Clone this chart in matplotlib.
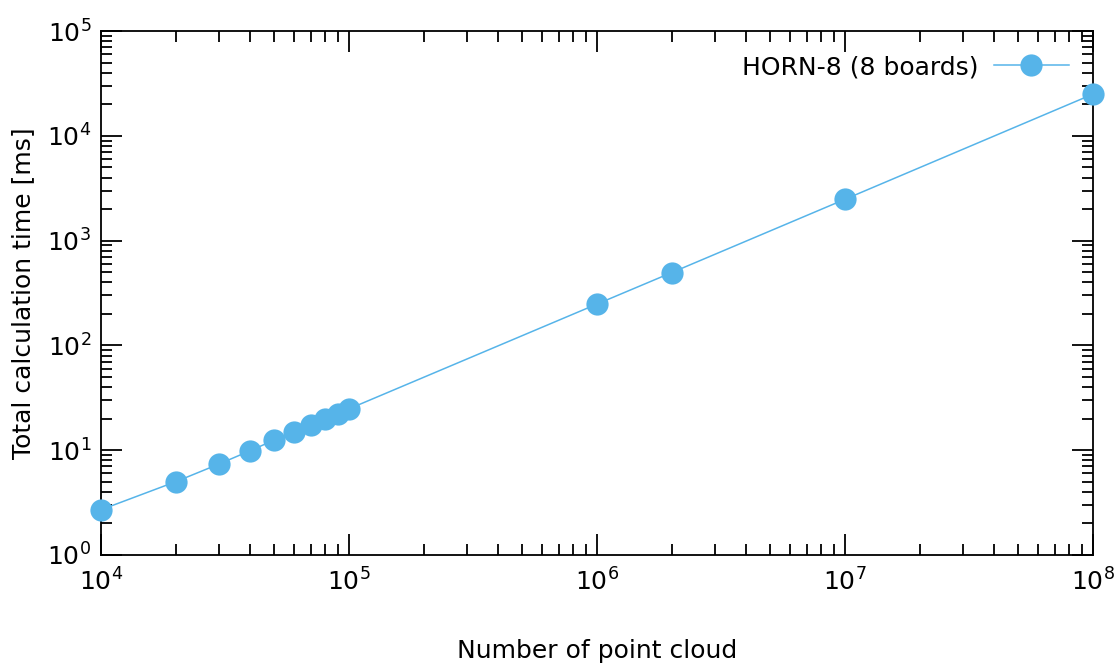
import matplotlib
matplotlib.use("Agg")
import matplotlib.pyplot as plt
from matplotlib.ticker import LogLocator, NullFormatter, LogFormatterMathtext

# Number of points vs. total calculation time
points = [1e4, 2e4, 3e4, 4e4, 5e4, 6e4, 7e4, 8e4, 9e4, 1e5, 1e6, 2e6, 1e7, 1e8]
time_ms = [2.7, 5.0, 7.4, 9.9, 12.5, 14.8, 17.4, 19.9, 22.3, 24.8, 248, 495, 2480, 25000]

COLOR = '#56b4e9'

plt.rcParams['mathtext.fontset'] = 'dejavusans'

fig = plt.figure(figsize=(11.15, 6.64), dpi=100)
ax = fig.add_axes([0.0906, 0.1642, 0.8897, 0.7891])

ax.plot(points, time_ms, color=COLOR, linewidth=1.1, marker='o',
        markersize=16, markeredgewidth=0, label='HORN-8 (8 boards)',
        clip_on=False, zorder=5)

ax.set_xscale('log')
ax.set_yscale('log')
ax.set_xlim(1e4, 1e8)
ax.set_ylim(1e0, 1e5)

ax.xaxis.set_major_locator(LogLocator(base=10, numticks=10))
ax.yaxis.set_major_locator(LogLocator(base=10, numticks=10))
ax.xaxis.set_minor_locator(LogLocator(base=10, subs=range(2, 10), numticks=20))
ax.yaxis.set_minor_locator(LogLocator(base=10, subs=range(2, 10), numticks=20))
ax.xaxis.set_minor_formatter(NullFormatter())
ax.yaxis.set_minor_formatter(NullFormatter())
ax.xaxis.set_major_formatter(LogFormatterMathtext())
ax.yaxis.set_major_formatter(LogFormatterMathtext())

ax.tick_params(which='both', direction='in', top=True, right=True,
               width=1.3, labelsize=18, color='black')
ax.tick_params(axis='x', which='major', length=15, pad=10)
ax.tick_params(axis='y', which='major', length=15, pad=7)
ax.tick_params(which='minor', length=8)
for spine in ax.spines.values():
    spine.set_linewidth(1.3)

ax.set_xlabel('Number of point cloud', fontsize=18, labelpad=31)
ax.set_ylabel('Total calculation time [ms]', fontsize=18, labelpad=9)

ax.legend(loc='upper right', frameon=False, fontsize=18, markerfirst=False,
          handlelength=3.0, handletextpad=0.6, borderaxespad=0.5,
          bbox_to_anchor=(0.998, 0.997))

plt.savefig('out.png', dpi=100)
